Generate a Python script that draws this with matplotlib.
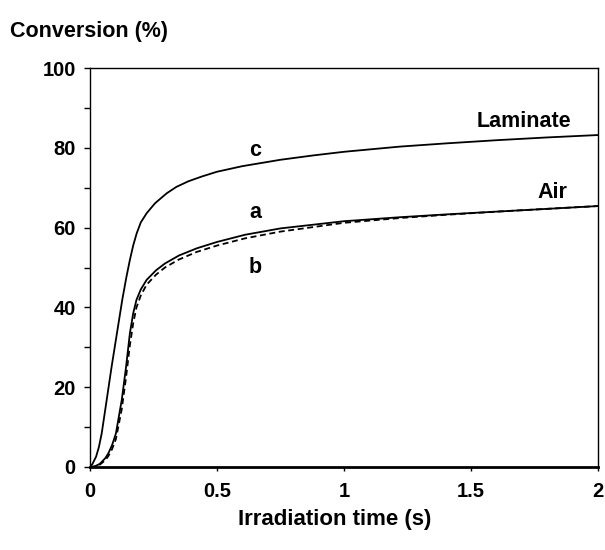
import matplotlib
matplotlib.use("Agg")
import matplotlib.pyplot as plt
from matplotlib.ticker import MultipleLocator

plt.rcParams['font.family'] = ['Liberation Sans', 'DejaVu Sans']
plt.rcParams['font.weight'] = 'bold'

# curve c (Laminate)
c_x = [0, 0.01, 0.024, 0.035, 0.046, 0.065, 0.085, 0.106, 0.127, 0.143, 0.157, 0.17, 0.184, 0.2, 0.223, 0.256,
       0.302, 0.34, 0.387, 0.44, 0.5, 0.6, 0.75, 0.88, 1.0, 1.22, 1.4, 1.6, 1.8, 2.0]
c_y = [0, 0.8, 2.6, 5.0, 8.4, 16.5, 25.1, 33.5, 41.9, 47.5, 51.9, 55.5, 58.6, 61.3, 63.6, 66.1,
       68.6, 70.2, 71.6, 72.8, 74.0, 75.4, 77.0, 78.1, 79.0, 80.3, 81.1, 81.9, 82.6, 83.2]
# curve a (Air, solid)
a_x = [0, 0.02, 0.039, 0.06, 0.072, 0.087, 0.102, 0.125, 0.142, 0.157, 0.17, 0.183, 0.2, 0.223, 0.26, 0.295,
       0.35, 0.42, 0.5, 0.61, 0.75, 1.0, 1.22, 1.4, 1.6, 1.8, 2.0]
a_y = [0, 0.2, 0.8, 2.2, 3.4, 5.5, 8.4, 16.8, 25.1, 33.5, 38.5, 41.9, 44.5, 46.9, 49.3, 51.0,
       53.0, 54.8, 56.4, 58.2, 59.8, 61.6, 62.6, 63.3, 64.0, 64.7, 65.4]
# curve b (Air, dashed)
b_x = [0, 0.02, 0.039, 0.06, 0.072, 0.087, 0.102, 0.125, 0.142, 0.157, 0.17, 0.183, 0.2, 0.223, 0.26, 0.295,
       0.35, 0.42, 0.5, 0.61, 0.75, 1.0, 1.22, 1.4, 1.6, 1.8, 2.0]
b_y = [0, 0.1, 0.6, 1.7, 2.7, 4.5, 7.0, 14.5, 22.5, 30.5, 36.0, 40.0, 43.0, 45.7, 48.2, 50.0,
       52.0, 53.9, 55.5, 57.3, 59.0, 61.2, 62.4, 63.2, 64.0, 64.7, 65.4]

x_ticks = [0, 0.5, 1, 1.5, 2]
x_ticklabels = ['0', '0.5', '1', '1.5', '2']
y_ticks = [0, 20, 40, 60, 80, 100]

fig = plt.figure(figsize=(6.05, 5.5), dpi=100)
ax = fig.add_axes([90/605, 1-467/550, (598-90)/605, (467-68)/550])

ax.plot(c_x, c_y, color='black', lw=1.3, solid_joinstyle='round')
ax.plot(a_x, a_y, color='black', lw=1.3, solid_joinstyle='round')
ax.plot(b_x, b_y, color='black', lw=1.3, ls=(0, (3.3, 2)))

ax.set_xlim(0, 2)
ax.set_ylim(0, 100)
ax.set_xticks(x_ticks)
ax.set_xticklabels(x_ticklabels)
ax.set_yticks(y_ticks)
ax.yaxis.set_minor_locator(MultipleLocator(10))
ax.tick_params(axis='both', labelsize=14.5, direction='out', width=1, color='black')
ax.tick_params(axis='y', which='major', length=4.3, pad=6)
ax.tick_params(axis='y', which='minor', length=4.3, width=1)
ax.tick_params(axis='x', length=3, pad=8)
for lab in ax.get_xticklabels() + ax.get_yticklabels():
    lab.set_fontweight('bold')

for s in ['top', 'right', 'left']:
    ax.spines[s].set_linewidth(1.0)
ax.spines['bottom'].set_linewidth(2.0)

fs = 15.5
ax.text(0.65, 79.4, 'c', fontsize=fs, fontweight='bold', ha='center', va='center')
ax.text(0.65, 63.7, 'a', fontsize=fs, fontweight='bold', ha='center', va='center')
ax.text(0.65, 49.9, 'b', fontsize=fs, fontweight='bold', ha='center', va='center')
ax.text(1.71, 86.5, 'Laminate', fontsize=fs, fontweight='bold', ha='center', va='center')
ax.text(1.82, 68.9, 'Air', fontsize=fs, fontweight='bold', ha='center', va='center')

fig.text(10/605, 1-31/550, 'Conversion (%)', fontsize=15.5, fontweight='bold', ha='left', va='center')
fig.text(335/605, 1-519/550, 'Irradiation time (s)', fontsize=16, fontweight='bold', ha='center', va='center')

fig.savefig('out.png', dpi=100)
